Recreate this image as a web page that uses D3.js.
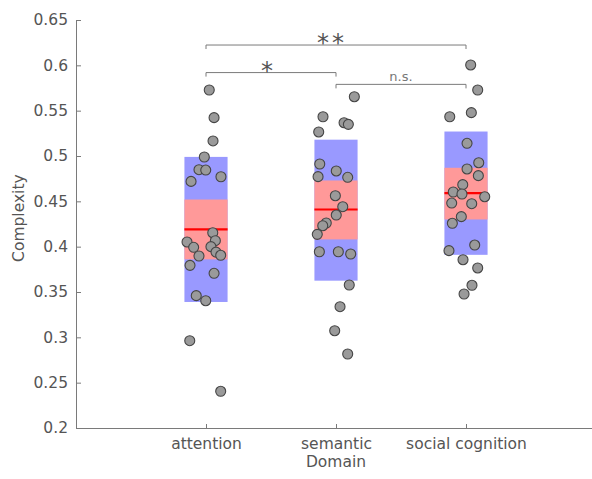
<!DOCTYPE html>
<html lang="en">
<head>
<meta charset="UTF-8">
<script src="https://d3js.org/d3.v7.min.js"></script>
<style>
  body { margin: 0; background: #fff; }
  text { font-family: "DejaVu Sans", sans-serif; }
</style>
</head>
<body>
<div id="chart"></div>
<script>
// domains and values
var domains = ["attention", "semantic", "social cognition"];

var attention = [0.5728, 0.5423, 0.5166, 0.4989, 0.4849, 0.4845, 0.4771, 0.472, 0.4154, 0.4066, 0.4052,
                 0.3993, 0.400, 0.394, 0.3905, 0.3897, 0.3794, 0.3706, 0.346, 0.3404, 0.2963, 0.2405];
var attentionJitter = [0.025, 0.062, 0.054, -0.013, -0.054, -0.002, 0.115, -0.115, 0.052, 0.072, -0.146,
                       -0.095, 0.038, 0.077, 0.113, -0.054, -0.123, 0.062, -0.075, -0.002, -0.125, 0.113];

var semantic = [0.5654, 0.5433, 0.5367, 0.5349, 0.5265, 0.4912, 0.4835, 0.4772, 0.4765, 0.4562, 0.4441,
                0.4349, 0.4261, 0.4231, 0.4136, 0.3944, 0.3944, 0.3919, 0.3577, 0.3338, 0.3073, 0.2816];
var semanticJitter = [0.141, -0.100, 0.062, 0.095, -0.133, -0.125, 0.002, -0.138, 0.090, -0.005, 0.052,
                      0.002, -0.075, -0.102, -0.144, -0.128, 0.018, 0.113, 0.102, 0.031, -0.010, 0.090];

var social = [0.6004, 0.5728, 0.5478, 0.5433, 0.514, 0.4926, 0.4857, 0.4783, 0.4684, 0.4603, 0.4581,
              0.4551, 0.4481, 0.4474, 0.4331, 0.4258, 0.4018, 0.3956, 0.3856, 0.3765, 0.3574, 0.3478];
var socialJitter = [0.036, 0.090, 0.041, -0.125, 0.008, 0.098, 0.008, 0.095, -0.025, -0.098, -0.031,
                    0.144, -0.110, 0.044, -0.036, -0.105, 0.067, -0.131, -0.023, 0.090, 0.046, -0.015];

// mean, 95% CI and SD bands per domain
var means  = [0.419, 0.441, 0.459];
var ciLow  = [0.386, 0.408, 0.430];
var ciHigh = [0.452, 0.473, 0.487];
var sdLow  = [0.339, 0.3625, 0.391];
var sdHigh = [0.499, 0.518, 0.527];

var yTicks = [0.2, 0.25, 0.3, 0.35, 0.4, 0.45, 0.5, 0.55, 0.6, 0.65];

// significance brackets: from, to, level, label
var sigFrom  = [1, 1, 2];
var sigTo    = [3, 2, 3];
var sigLevel = [0.6224, 0.592, 0.579];
var sigLabel = ["**", "*", "n.s."];

var W = 592, H = 479;
var margin = {top: 20, right: -4, bottom: 51, left: 76},
    width = W - margin.left - margin.right,
    height = H - margin.top - margin.bottom;

var svg = d3.select("#chart").append("svg")
    .attr("width", W).attr("height", H)
  .append("g")
    .attr("transform", "translate(" + margin.left + "," + margin.top + ")");

var x = d3.scaleLinear().domain([0, 4]).range([0, width]);
var y = d3.scaleLinear().domain([0.2, 0.65]).range([height, 0]);

var axisCol = "#7a7a7a", textCol = "#555";
var halfW = 0.166;

var groups = [
  {vals: attention, jit: attentionJitter},
  {vals: semantic, jit: semanticJitter},
  {vals: social, jit: socialJitter}
];

// SD boxes
svg.selectAll(".sd").data(domains).enter().append("rect")
    .attr("x", function(d, i) { return x(i + 1 - halfW); })
    .attr("width", x(2 * halfW) - x(0))
    .attr("y", function(d, i) { return y(sdHigh[i]); })
    .attr("height", function(d, i) { return y(sdLow[i]) - y(sdHigh[i]); })
    .style("fill", "#9999ff");

// CI boxes
svg.selectAll(".ci").data(domains).enter().append("rect")
    .attr("x", function(d, i) { return x(i + 1 - halfW); })
    .attr("width", x(2 * halfW) - x(0))
    .attr("y", function(d, i) { return y(ciHigh[i]); })
    .attr("height", function(d, i) { return y(ciLow[i]) - y(ciHigh[i]); })
    .style("fill", "#ff9999");

// mean lines
svg.selectAll(".mean").data(domains).enter().append("line")
    .attr("x1", function(d, i) { return x(i + 1 - halfW); })
    .attr("x2", function(d, i) { return x(i + 1 + halfW); })
    .attr("y1", function(d, i) { return y(means[i]); })
    .attr("y2", function(d, i) { return y(means[i]); })
    .style("stroke", "#ff0000")
    .style("stroke-width", 2.2);

// points
groups.forEach(function(g, gi) {
  svg.selectAll(".pt" + gi).data(g.vals).enter().append("circle")
      .attr("cx", function(d, i) { return x(gi + 1 + g.jit[i]); })
      .attr("cy", function(d) { return y(d); })
      .attr("r", 5)
      .style("fill", "#9a9a9a")
      .style("stroke", "#454545")
      .style("stroke-width", 1.1);
});

// axes
var yAxis = svg.append("g")
    .call(d3.axisLeft(y).tickValues(yTicks).tickFormat(d3.format("~g"))
      .tickSizeInner(-5).tickSizeOuter(0).tickPadding(8));
var xAxis = svg.append("g")
    .attr("transform", "translate(0," + height + ")")
    .call(d3.axisBottom(x).tickValues([1, 2, 3]).tickFormat(function(d) { return domains[d - 1]; })
      .tickSizeInner(-4).tickSizeOuter(0).tickPadding(10));
[yAxis, xAxis].forEach(function(a) {
  a.selectAll("path, line").style("stroke", axisCol);
  a.selectAll("text").style("fill", textCol).style("font-size", "15.5px");
});

// axis labels
svg.append("text")
    .attr("x", x(2)).attr("y", height + 39)
    .attr("text-anchor", "middle")
    .style("fill", textCol).style("font-size", "15.5px")
    .text("Domain");
svg.append("text")
    .attr("transform", "rotate(-90)")
    .attr("x", -(y(0.4315))).attr("y", -52)
    .attr("text-anchor", "middle")
    .style("fill", textCol).style("font-size", "15.5px")
    .text("Complexity");

// significance brackets
sigLabel.forEach(function(lab, i) {
  var yy = y(sigLevel[i]);
  svg.append("path")
      .attr("d", "M" + x(sigFrom[i]) + "," + (yy + 4) + "V" + yy + "H" + x(sigTo[i]) + "V" + (yy + 4))
      .style("fill", "none").style("stroke", axisCol).style("stroke-width", 1);
  var mid = (x(sigFrom[i]) + x(sigTo[i])) / 2;
  if (lab === "n.s.") {
    svg.append("text").attr("x", mid).attr("y", yy - 3)
        .attr("text-anchor", "middle")
        .style("fill", "#777").style("font-size", "13px").text(lab);
  } else {
    svg.append("text").attr("x", mid - 4).attr("y", yy + 6)
        .attr("text-anchor", "middle")
        .style("fill", "#555").style("font-size", "24px")
        .style("letter-spacing", lab.length > 1 ? "3px" : "0px")
        .text(lab);
  }
});
</script>
</body>
</html>
